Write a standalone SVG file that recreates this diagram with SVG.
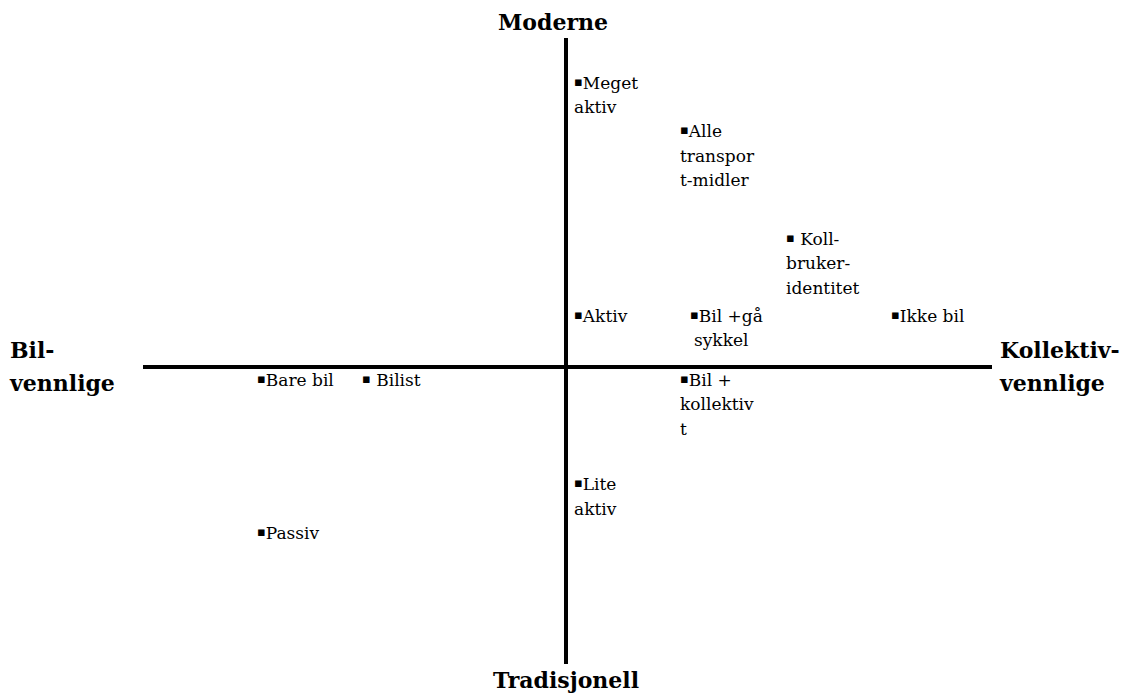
<svg xmlns="http://www.w3.org/2000/svg" width="1123" height="693" viewBox="0 0 1123 693">
<style>
.t{font-family:"DejaVu Serif","Liberation Serif",serif;font-size:17px;fill:#000}
.u{font-size:13px}
.b{font-family:"DejaVu Serif","Liberation Serif",serif;font-size:22px;font-weight:bold;fill:#000}
.ax{stroke:#000;stroke-width:4;fill:none}
</style>
<rect width="1123" height="693" fill="#fff"/>
<g id="axes">
<line class="ax" x1="566" y1="38" x2="566" y2="664"/>
<line class="ax" x1="143" y1="367" x2="992" y2="367"/>
</g>
<g id="labels">
<text class="b" x="553" y="30" text-anchor="middle">Moderne</text>
<text class="b" x="566" y="688" text-anchor="middle">Tradisjonell</text>
<text class="b" x="10" y="358">Bil-</text>
<text class="b" x="10" y="391">vennlige</text>
<text class="b" x="1000" y="358">Kollektiv-</text>
<text class="b" x="1000" y="391">vennlige</text>
</g>
<g id="n-meget"><text class="t" x="574" y="89"><tspan class="u" dy="-3">▪</tspan><tspan dy="3">Meget</tspan></text><text class="t" x="574" y="113">aktiv</text></g>
<g id="n-alle"><text class="t" x="680" y="137"><tspan class="u" dy="-3">▪</tspan><tspan dy="3">Alle</tspan></text><text class="t" x="680" y="162">transpor</text><text class="t" x="680" y="186">t-midler</text></g>
<g id="n-koll"><text class="t" x="786" y="245"><tspan class="u" dy="-3">▪</tspan><tspan dy="3"> Koll-</tspan></text><text class="t" x="786" y="269">bruker-</text><text class="t" x="786" y="294">identitet</text></g>
<g id="n-aktiv"><text class="t" x="574" y="322"><tspan class="u" dy="-3">▪</tspan><tspan dy="3">Aktiv</tspan></text></g>
<g id="n-bilga"><text class="t" x="690" y="322"><tspan class="u" dy="-3">▪</tspan><tspan dy="3">Bil +gå</tspan></text><text class="t" x="694" y="346">sykkel</text></g>
<g id="n-ikkebil"><text class="t" x="891" y="322"><tspan class="u" dy="-3">▪</tspan><tspan dy="3">Ikke bil</tspan></text></g>
<g id="n-barebil"><text class="t" x="257" y="386"><tspan class="u" dy="-3">▪</tspan><tspan dy="3">Bare bil</tspan></text></g>
<g id="n-bilist"><text class="t" x="362" y="386"><tspan class="u" dy="-3">▪</tspan><tspan dy="3"> Bilist</tspan></text></g>
<g id="n-bilkoll"><text class="t" x="680" y="386"><tspan class="u" dy="-3">▪</tspan><tspan dy="3">Bil +</tspan></text><text class="t" x="680" y="410">kollektiv</text><text class="t" x="680" y="435">t</text></g>
<g id="n-lite"><text class="t" x="574" y="490"><tspan class="u" dy="-3">▪</tspan><tspan dy="3">Lite</tspan></text><text class="t" x="574" y="515">aktiv</text></g>
<g id="n-passiv"><text class="t" x="257" y="539"><tspan class="u" dy="-3">▪</tspan><tspan dy="3">Passiv</tspan></text></g>
</svg>
